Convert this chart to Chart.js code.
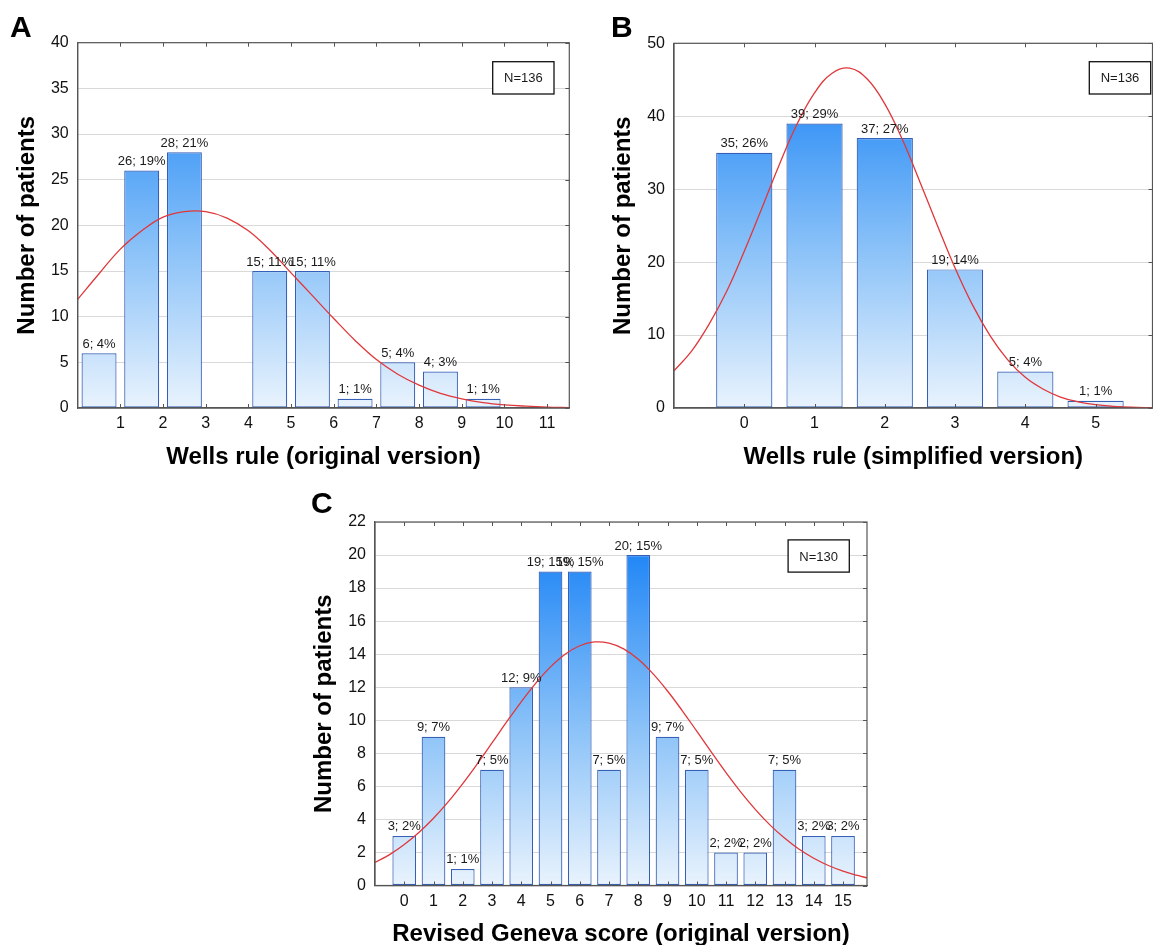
<!DOCTYPE html>
<html>
<head>
<meta charset="utf-8">
<script src="https://cdn.jsdelivr.net/npm/chart.js@4.4.1/dist/chart.umd.min.js"></script>
<style>
  html, body { margin: 0; padding: 0; background: #fff; }
  body { width: 1153px; height: 945px; position: relative; overflow: hidden; }
  canvas { position: absolute; display: block; }
</style>
</head>
<body>
<canvas id="cA" width="580" height="472" style="left:0px;top:0px;width:580px;height:472px"></canvas>
<canvas id="cB" width="573" height="472" style="left:580px;top:0px;width:573px;height:472px"></canvas>
<canvas id="cC" width="590" height="465" style="left:290px;top:480px;width:590px;height:465px"></canvas>
<script>
// ---------------- DATA ----------------
// Panel A: Wells rule (original version), histogram bins [k, k+1)
const wellsOrigBinCenters = [0.5, 1.5, 2.5, 4.5, 5.5, 6.5, 7.5, 8.5, 9.5];
const wellsOrigCounts     = [6, 26, 28, 15, 15, 1, 5, 4, 1];
const wellsOrigPercents   = [4, 19, 21, 11, 11, 1, 4, 3, 1];
const wellsOrigCurveX = [0, 0.5, 1, 1.5, 2, 2.5, 3, 3.5, 4, 4.5, 5, 5.5, 6, 6.5, 7, 7.5, 8, 8.5, 9, 9.5, 10, 10.5, 11, 11.52];
const wellsOrigCurveY = [11.9, 14.7, 17.4, 19.4, 20.9, 21.5, 21.5, 20.8, 19.4, 17.3, 14.8, 12.3, 9.8, 7.4, 5.3, 3.7, 2.5, 1.6, 1.0, 0.6, 0.35, 0.2, 0.1, 0.05];
const wellsOrigN = 'N=136';

// Panel B: Wells rule (simplified version)
const wellsSimpCategories = [0, 1, 2, 3, 4, 5];
const wellsSimpCounts     = [35, 39, 37, 19, 5, 1];
const wellsSimpPercents   = [26, 29, 27, 14, 4, 1];
const wellsSimpCurveX = [-1, -0.75, -0.5, -0.25, 0, 0.25, 0.5, 0.75, 1, 1.25, 1.5, 1.75, 2, 2.25, 2.5, 2.75, 3, 3.25, 3.5, 3.75, 4, 4.25, 4.5, 4.75, 5, 5.25, 5.5, 5.81];
const wellsSimpCurveY = [5.1, 7.8, 11.5, 16.0, 21.5, 27.4, 33.4, 38.9, 43.2, 45.9, 46.6, 45.1, 41.7, 36.8, 31.0, 25.0, 19.2, 14.1, 9.9, 6.6, 4.2, 2.6, 1.5, 0.85, 0.45, 0.23, 0.11, 0.04];
const wellsSimpN = 'N=136';

// Panel C: Revised Geneva score (original version)
const genevaCategories = [0, 1, 2, 3, 4, 5, 6, 7, 8, 9, 10, 11, 12, 13, 14, 15];
const genevaCounts     = [3, 9, 1, 7, 12, 19, 19, 7, 20, 9, 7, 2, 2, 7, 3, 3];
const genevaPercents   = [2, 7, 1, 5, 9, 15, 15, 5, 15, 7, 5, 2, 2, 5, 2, 2];
const genevaCurveX = [-1, -0.5, 0, 0.5, 1, 1.5, 2, 2.5, 3, 3.5, 4, 4.5, 5, 5.5, 6, 6.5, 7, 7.5, 8, 8.5, 9, 9.5, 10, 10.5, 11, 11.5, 12, 12.5, 13, 13.5, 14, 14.5, 15, 15.5, 15.82];
const genevaCurveY = [1.39, 1.87, 2.48, 3.21, 4.07, 5.06, 6.17, 7.37, 8.63, 9.90, 11.12, 12.25, 13.23, 14.00, 14.51, 14.74, 14.67, 14.32, 13.69, 12.82, 11.77, 10.59, 9.34, 8.07, 6.83, 5.67, 4.61, 3.67, 2.87, 2.19, 1.65, 1.21, 0.87, 0.61, 0.46];
const genevaN = 'N=130';

// Axis titles
const yTitle = 'Number of patients';
const xTitleA = 'Wells rule (original version)';
const xTitleB = 'Wells rule (simplified version)';
const xTitleC = 'Revised Geneva score (original version)';

// ---------------- STYLE / HELPERS ----------------
const FAMILY = '"Liberation Sans", Arial, Helvetica, sans-serif';
Chart.defaults.font.family = FAMILY;
Chart.defaults.color = '#111';

function barGradient(ctx) {
  const chart = ctx.chart;
  const a = chart.chartArea;
  if (!a) return 'rgb(140,196,248)';
  const g = chart.ctx.createLinearGradient(0, a.bottom, 0, a.top);
  g.addColorStop(0, 'rgb(233,243,253)');
  g.addColorStop(0.45, 'rgb(135,192,248)');
  g.addColorStop(1, 'rgb(14,124,245)');
  return g;
}

const decor = {
  id: 'decor',
  afterDatasetsDraw(chart, args, o) {
    const c = chart.ctx, a = chart.chartArea, xs = chart.scales.x, ys = chart.scales.y;
    c.save();
    // frame
    c.strokeStyle = '#555';
    c.lineWidth = 1.2;
    c.strokeRect(a.left, a.top, a.right - a.left, a.bottom - a.top);
    // inner tick marks
    c.beginPath();
    xs.ticks.forEach(t => {
      const p = Math.round(xs.getPixelForValue(t.value)) + 0.5;
      if (p <= a.left + 1 || p >= a.right - 1) return;
      c.moveTo(p, a.bottom); c.lineTo(p, a.bottom - 4);
      c.moveTo(p, a.top); c.lineTo(p, a.top + 4);
    });
    ys.ticks.forEach(t => {
      const p = Math.round(ys.getPixelForValue(t.value)) + 0.5;
      c.moveTo(a.right, p); c.lineTo(a.right - 4, p);
    });
    c.lineWidth = 1;
    c.stroke();
    // value labels above bars
    const meta = chart.getDatasetMeta(o.barIndex);
    c.font = '13px ' + FAMILY;
    c.fillStyle = '#1a1a1a';
    c.textAlign = 'center';
    c.textBaseline = 'alphabetic';
    meta.data.forEach((el, i) => {
      c.fillText(o.labels[i], el.x, el.y - 5.5);
    });
    // N box
    const b = o.box;
    c.fillStyle = '#fff';
    c.fillRect(b[0], b[1], b[2], b[3]);
    c.strokeStyle = '#111';
    c.lineWidth = 1.3;
    c.strokeRect(b[0], b[1], b[2], b[3]);
    c.fillStyle = '#1a1a1a';
    c.textBaseline = 'middle';
    c.fillText(o.nText, b[0] + b[2] / 2, b[1] + b[3] / 2 + 1);
    // panel letter
    c.font = 'bold 30px ' + FAMILY;
    c.textAlign = 'left';
    c.textBaseline = 'alphabetic';
    c.fillStyle = '#000';
    c.fillText(o.letter, o.letterPos[0], o.letterPos[1]);
    c.restore();
  }
};

function makePanel(canvasId, p) {
  const labels = p.counts.map((v, i) => v + '; ' + p.percents[i] + '%');
  return new Chart(document.getElementById(canvasId), {
    type: 'bar',
    data: {
      datasets: [
        {
          type: 'line',
          data: p.curveX.map((x, i) => ({ x: x, y: p.curveY[i] })),
          borderColor: '#e0373a',
          borderWidth: 1.3,
          pointRadius: 0,
          tension: 0.4,
          fill: false,
          order: 0
        },
        {
          type: 'bar',
          data: p.centers.map((x, i) => ({ x: x, y: p.counts[i] })),
          backgroundColor: barGradient,
          borderColor: '#3660b6',
          borderWidth: 1.2,
          borderSkipped: false,
          barPercentage: p.barPct,
          categoryPercentage: 1,
          order: 1
        }
      ]
    },
    options: {
      responsive: false,
      animation: false,
      devicePixelRatio: 1,
      events: [],
      layout: { padding: { left: 0, top: p.padTop, right: p.padRight, bottom: 0 } },
      plugins: {
        legend: { display: false },
        tooltip: { enabled: false },
        decor: {
          barIndex: 1,
          labels: labels,
          nText: p.nText,
          box: p.box,
          letter: p.letter,
          letterPos: p.letterPos
        }
      },
      scales: {
        x: {
          type: 'linear',
          min: p.xMin,
          max: p.xMax,
          offset: false,
          grid: { display: false, drawTicks: false, offset: false },
          border: { display: true, color: '#555', width: 1.2 },
          ticks: {
            stepSize: 1,
            includeBounds: false,
            autoSkip: false,
            maxRotation: 0,
            minRotation: 0,
            padding: 6.4,
            color: '#111',
            font: { size: 16, family: FAMILY },
            callback: (v) => (v <= p.hideBelow ? '' : String(v))
          },
          title: {
            display: true,
            text: p.xTitle,
            color: '#000',
            font: { size: 24, weight: 'bold', family: FAMILY, lineHeight: 1 },
            padding: { top: 0, bottom: p.xTitlePad }
          },
          afterFit: (s) => { s.height = p.xAxisH; }
        },
        y: {
          min: 0,
          max: p.yMax,
          grid: { color: '#d9d9d9', lineWidth: 1, drawTicks: false },
          border: { display: true, color: '#555', width: 1.2 },
          ticks: {
            stepSize: p.yStep,
            padding: 9,
            color: '#111',
            font: { size: 16, family: FAMILY }
          },
          title: {
            display: true,
            text: yTitle,
            color: '#000',
            font: { size: 24, weight: 'bold', family: FAMILY, lineHeight: 1 },
            padding: { top: p.yTitlePad, bottom: 0 }
          },
          afterFit: (s) => { s.width = p.yAxisW; }
        }
      }
    },
    plugins: [decor]
  });
}

makePanel('cA', {
  centers: wellsOrigBinCenters, counts: wellsOrigCounts, percents: wellsOrigPercents,
  curveX: wellsOrigCurveX, curveY: wellsOrigCurveY, nText: wellsOrigN,
  xMin: 0, xMax: 11.52, hideBelow: 0, yMax: 40, yStep: 5, barPct: 0.82,
  xTitle: xTitleA, padTop: 42.7, padRight: 10.7, yAxisW: 77.7, xAxisH: 64,
  xTitlePad: 2.3, yTitlePad: 15,
  box: [492.7, 61.7, 61.3, 32.3], letter: 'A', letterPos: [10, 37]
});

makePanel('cB', {
  centers: wellsSimpCategories, counts: wellsSimpCounts, percents: wellsSimpPercents,
  curveX: wellsSimpCurveX, curveY: wellsSimpCurveY, nText: wellsSimpN,
  xMin: -1, xMax: 5.81, hideBelow: -1, yMax: 50, yStep: 10, barPct: 0.8,
  xTitle: xTitleB, padTop: 43.3, padRight: 0.5, yAxisW: 94, xAxisH: 64,
  xTitlePad: 2.3, yTitlePad: 31.3,
  box: [509.3, 61.7, 61.4, 32.3], letter: 'B', letterPos: [31, 37]
});

makePanel('cC', {
  centers: genevaCategories, counts: genevaCounts, percents: genevaPercents,
  curveX: genevaCurveX, curveY: genevaCurveY, nText: genevaN,
  xMin: -1, xMax: 15.82, hideBelow: -1, yMax: 22, yStep: 2, barPct: 0.81,
  xTitle: xTitleC, padTop: 42, padRight: 13, yAxisW: 85, xAxisH: 59.5,
  xTitlePad: -1.3, yTitlePad: 22.3,
  box: [498.1, 59.9, 61.2, 32.2], letter: 'C', letterPos: [21, 33]
});
</script>
</body>
</html>
